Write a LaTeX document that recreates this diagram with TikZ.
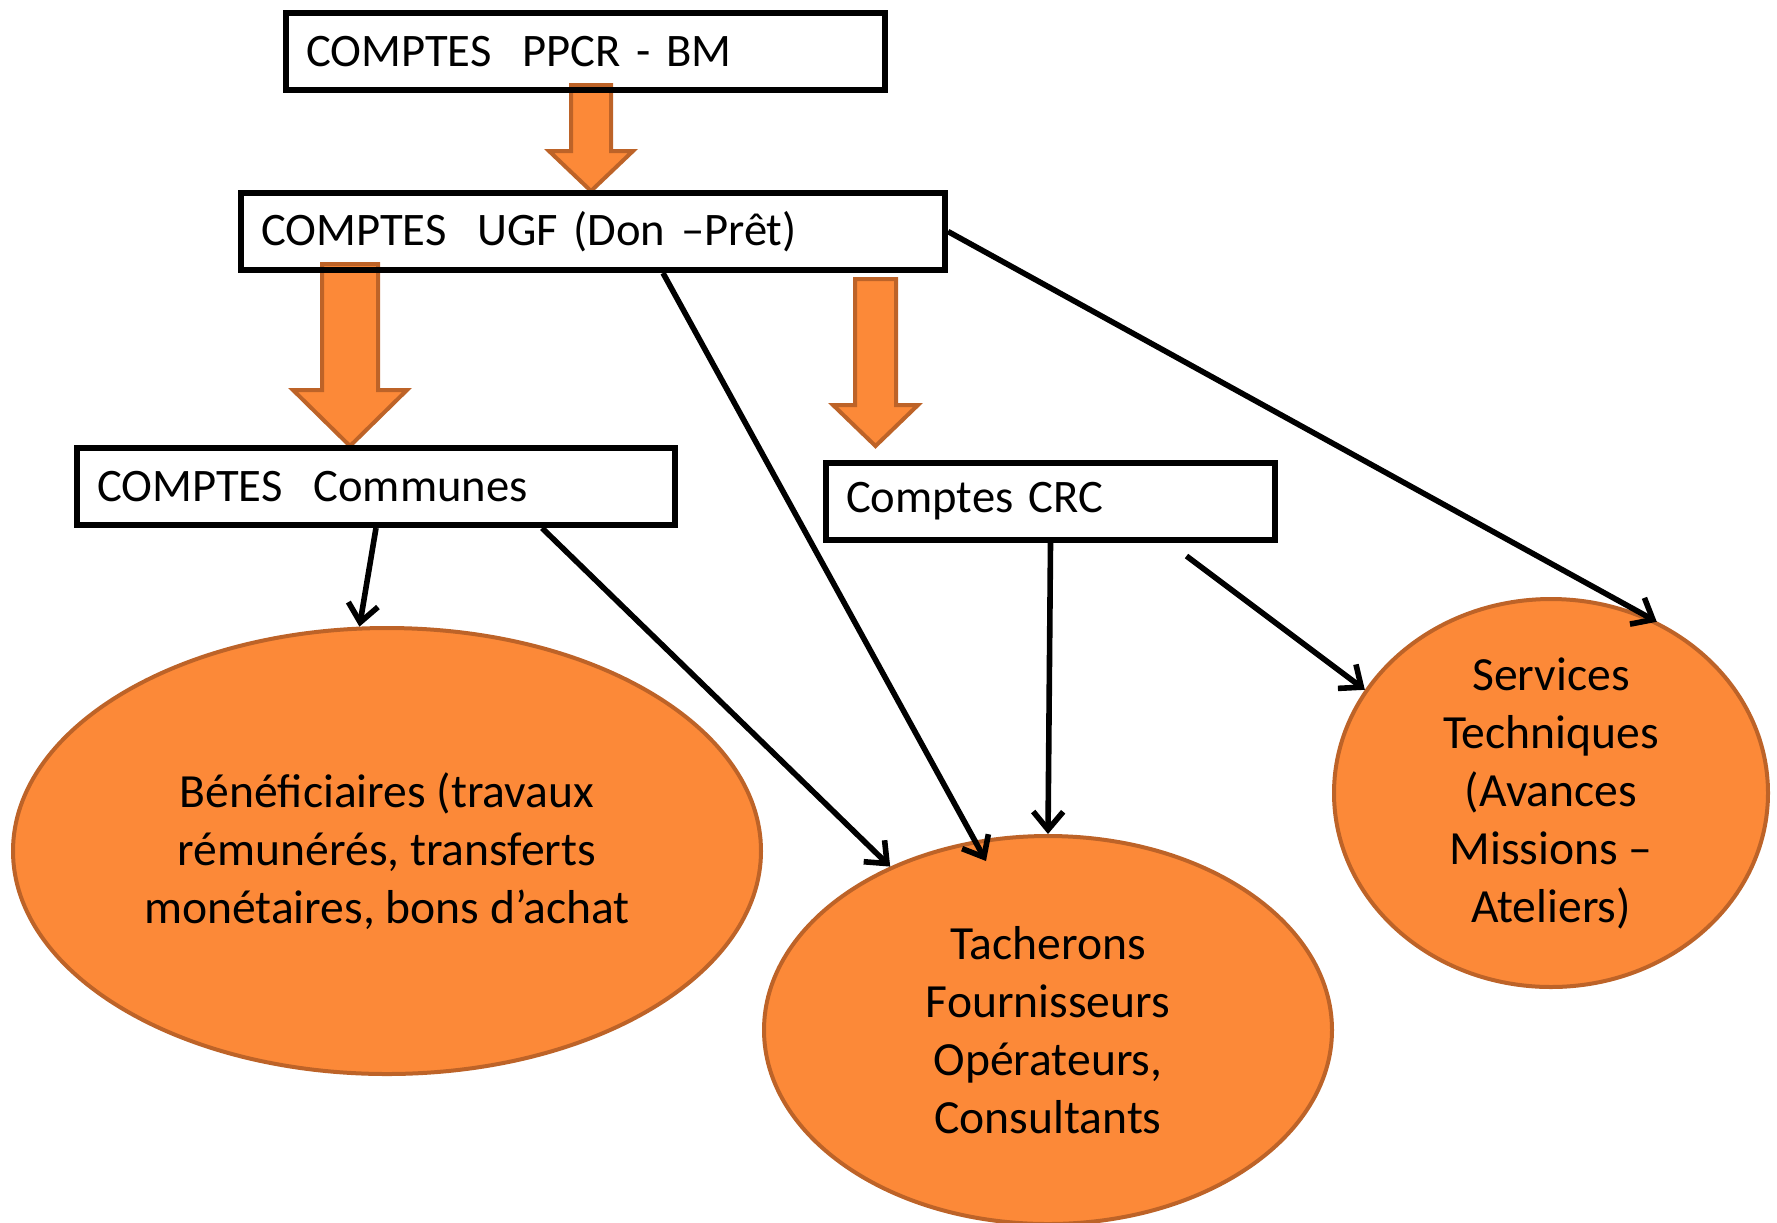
\documentclass[tikz,border=0pt]{standalone}
\usepackage{fontspec}
\setmainfont{Carlito}
\usepackage{xcolor}
\usepackage{tikz}
\usetikzlibrary{arrows.meta}
\usetikzlibrary{shapes.geometric}
\definecolor{fillorange}{RGB}{252,137,56}
\definecolor{edgeorange}{RGB}{189,99,40}
\tikzset{
  compte/.style={draw,line width=3pt,anchor=north west,inner xsep=10pt,inner ysep=0pt,minimum height=38.5pt,align=left,font=\fontsize{23.3}{29}\selectfont},
  bulle/.style={ellipse,draw=edgeorange,fill=fillorange,line width=2pt,inner sep=-40pt,align=center,font=\fontsize{23.8}{29}\selectfont},
  fat/.style={draw=edgeorange,fill=fillorange,line width=2pt},
  flux/.style={line width=2.8pt,-{Straight Barb[length=9pt,width=15pt]}}
}
\def\bigdown(#1,#2)(#3:#4:#5:#6){\filldraw[fat] ({#1-#3},#2)--({#1+#3},#2)--({#1+#3},#5)--({#1+#4},#5)--(#1,#6)--({#1-#4},#5)--({#1-#3},#5)--cycle}

\begin{document}
\begin{tikzpicture}[x=0.5pt,y=-0.5pt]
            \useasboundingbox (0,0) rectangle (1777,1222);
            \bigdown(591,85)(20:42:151:191);
            \bigdown(350,264)(28:57:390:446);
            \bigdown(875.5,279)(20.5:42.5:405:446);
            \node[compte,text width=279.5pt] (ppcr) at (283,10) {COMPTES~~PPCR - BM};
            \node[compte,text width=332pt] (ugf) at (238,190) {COMPTES~~UGF (Don –Prêt)};
            \node[compte,text width=279pt] (communes) at (74,445) {COMPTES~~Communes};
            \node[compte,text width=204.5pt] (crc) at (823,460) {Comptes CRC};
            \node[bulle,minimum width=374pt,minimum height=223pt] (benef) at (387,851) {Bénéficiaires (travaux\\rémunérés, transferts\\monétaires, bons d’achat};
            \node[bulle,minimum width=284pt,minimum height=194pt] (tach) at (1048,1030) {Tacherons\\Fournisseurs\\Opérateurs,\\Consultants};
            \node[bulle,minimum width=217pt,minimum height=194pt] (serv) at (1551,793) {Services\\Techniques\\(Avances\\Missions –\\Ateliers)};
            \draw[flux] (communes.south) -- (benef.97);
            \draw[flux] ([xshift=83pt]communes.south) -- (tach.134);
            \draw[flux] ([xshift=35pt]ugf.south) -- ([xshift=-31pt,yshift=-13.5pt]tach.north);
            \draw[flux] (crc.south) -- (tach.north);
            \draw[flux] ([xshift=68pt,yshift=-6.5pt]crc.south) -- (serv.151);
            \draw[flux,shorten >=-3pt] (ugf.east) -- (serv.60);
        \end{tikzpicture}
\end{document}
